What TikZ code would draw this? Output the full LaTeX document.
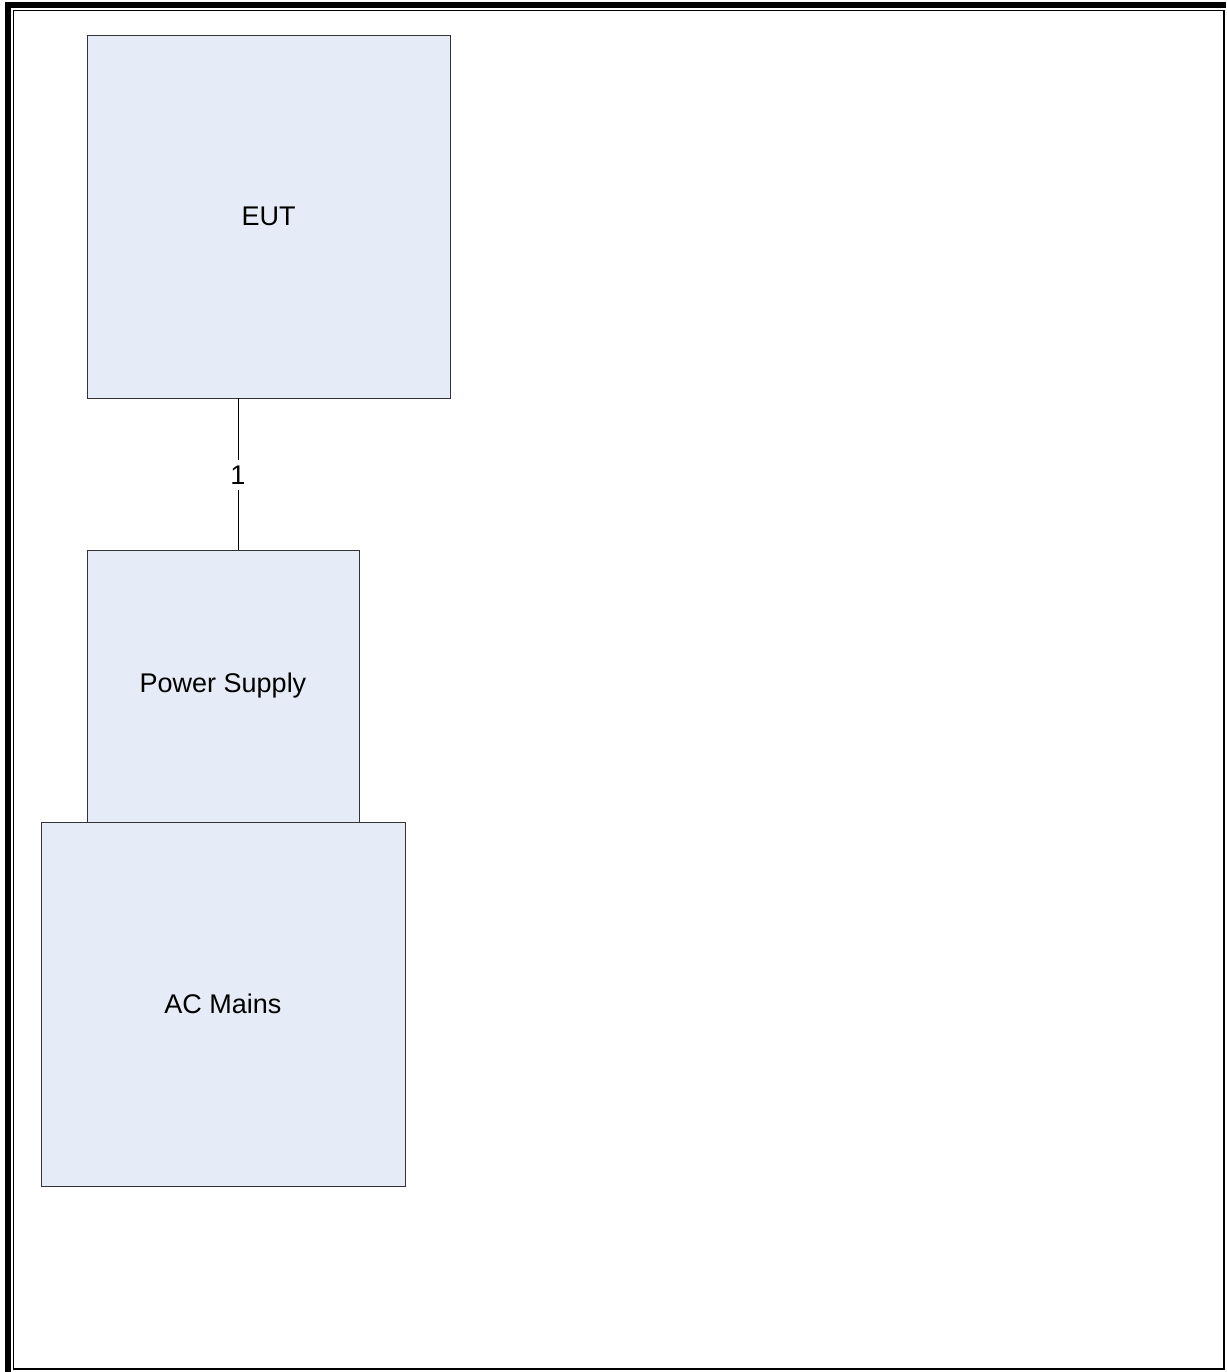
\documentclass[tikz,border=0pt]{standalone}
\usepackage{fontspec}
\setmainfont{Liberation Sans}
\usepackage{xcolor}
\usepackage{tikz}
\usetikzlibrary{positioning,calc}

\definecolor{boxfill}{RGB}{230,236,247}

\begin{document}
\begin{tikzpicture}[
  x=1pt, y=-1pt,
  unit/.style={rectangle, draw=black!80, line width=0.8pt, fill=boxfill,
               font=\fontsize{27}{31}\selectfont, inner sep=0pt},
  conn/.style={draw=black, line width=0.8pt},
  lbl/.style={font=\fontsize{27}{31}\selectfont, inner sep=6pt}
]
\useasboundingbox (0,0) rectangle (1226,1372);
% page frame
\fill[black] (5,2) rectangle (11,1372);
\fill[black] (5,2) rectangle (1226,8);
\draw[line width=1.5pt] (13.5,10.5) -- (13.5,1369) -- (1224,1369) -- (1224,10.5) -- cycle;

\node[unit, minimum width=363pt, minimum height=363pt] (eut) at (268.5,216.5) {EUT};
\node[unit, minimum width=272pt, minimum height=272pt] (psu) at (223,686) {Power Supply};
\node[unit, minimum width=364pt, minimum height=364pt] (mains) at (223,1004) {AC Mains};
\node[lbl] (c1) at (238,475) {1};

\draw[conn] (eut.south -| c1) -- (c1);
\draw[conn] (c1) -- (psu.north -| c1);
\end{tikzpicture}
\end{document}
